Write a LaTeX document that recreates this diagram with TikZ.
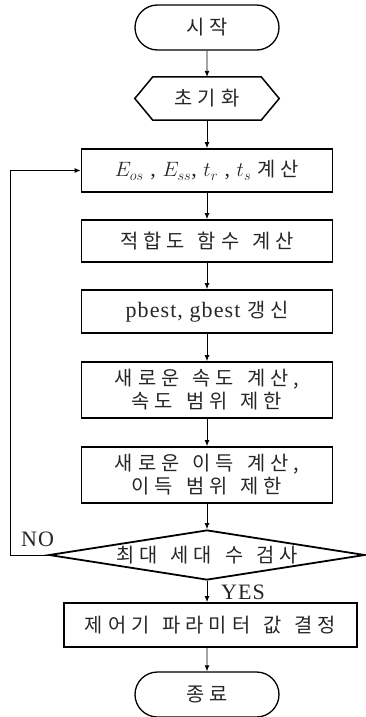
\documentclass[tikz,border=0pt]{standalone}
\usepackage{fontspec}
\setmainfont{Liberation Serif}[LetterSpace=5]
\newfontfamily\kr{Noto Sans CJK KR}[Scale=0.9,LetterSpace=25,WordSpace=1.4]
\usetikzlibrary{shapes.geometric,shapes.misc,arrows.meta}

\begin{document}
\begin{tikzpicture}[x=1pt,y=-1pt,
    every node/.style={font=\fontsize{22}{23}\selectfont, text=black!85},
    term/.style={rounded rectangle, draw, line width=1.3pt, minimum width=144pt, minimum height=45pt, inner sep=0pt},
    proc/.style={rectangle, draw, line width=1.8pt, minimum width=251pt, inner sep=0pt, align=center},
    arr/.style={-{Latex[length=6pt,width=5pt]}, line width=0.9pt}]
    \useasboundingbox (0,0) rectangle (366,717);
    \node[term] (start) at (207,27.5) {\kr 시작};
    \node[minimum width=144pt, minimum height=43pt, inner sep=0pt] (init) at (207,98.5) {\kr 초기화};
    \draw[line width=1.5pt] (init.west) -- ([xshift=18pt]init.north west) -- ([xshift=-18pt]init.north east)
        -- (init.east) -- ([xshift=-18pt]init.south east) -- ([xshift=18pt]init.south west) -- cycle;
    \node[proc, minimum height=43pt] (calc) at (207,170.5) {$E_{os}$ , $E_{ss}$, $t_r$ , $t_s$ {\kr 계산}};
    \node[proc, minimum height=42pt] (fit) at (207,241) {\kr 적합도 함수 계산};
    \node[proc, minimum height=43pt] (best) at (207,311.5) {pbest, gbest {\kr 갱신}};
    \node[proc, minimum height=56pt] (vel) at (207,390) {\kr 새로운 속도 계산,\\\kr 속도 범위 제한};
    \node[proc, minimum height=56pt] (gain) at (207,475) {\kr 새로운 이득 계산,\\\kr 이득 범위 제한};
    \node[diamond, draw, line width=1.8pt, aspect=6.3, minimum width=316pt, minimum height=50pt, inner sep=0pt] (check) at (207,555) {\kr 최대 세대 수 검사};
    \node[proc, minimum width=293pt, minimum height=44pt] (param) at (210.5,625) {\kr 제어기 파라미터 값 결정};
    \node[term] (stop) at (207,694.5) {\kr 종료};
    \node (no) at (37.5,539) {NO};
    \node (yes) at (243,592) {YES};
    \coordinate (back) at (10,555);
    \foreach \a/\b in {start/init, init/calc, calc/fit, fit/best, best/vel, vel/gain, gain/check}
        \draw[arr] (\a) -- (\b);
    \draw[arr] (check.south) -- (check.south |- param.north);
    \draw[arr] (param.south -| stop) -- (stop);
    % NO: back to the calculation step
    \draw[arr] (check.west) -- (back) |- (calc.west);
\end{tikzpicture}
\end{document}
